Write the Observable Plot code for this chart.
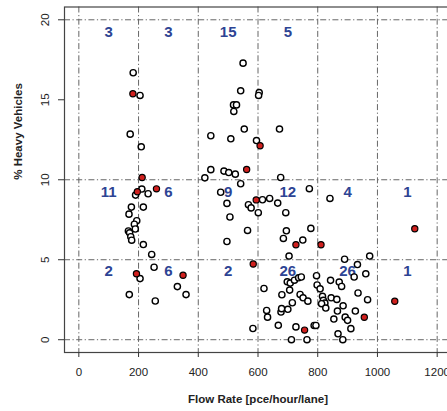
<!DOCTYPE html>
<html><head><meta charset="utf-8">
<script src="https://cdn.jsdelivr.net/npm/d3@7"></script>
<script src="https://cdn.jsdelivr.net/npm/@observablehq/plot@0.6"></script>
<style>body{margin:0;background:#fff;} svg{overflow:visible}</style>
</head><body><div id="chart"></div>
<script>
// open (white) points
const flowOpen = [182,205,172,209,
  211,190,232,216,176,168,194,186,189,166,170,174,177,216,244,
  169,205,252,256,330,359,
  550,542,604,602,518,528,519,554,672,442,509,595,442,486,502,524,422,676,
  475,496,542,506,568,577,565,496,
  601,615,639,666,693,695,685,750,777,704,772,
  841,890,974,
  583,
  620,629,632,668,677,679,700,680,698,708,722,736,745,706,715,741,751,767,727,712,764,788,794,796,798,
  933,843,872,880,922,961,808,816,819,824,813,827,845,864,935,967,866,885,854,892,900,926,911,868,884];
const hvOpen = [16.69,15.27,12.85,12.06,
  9.42,9.04,9.125,8.29,8.29,7.85,7.44,7.22,6.92,6.8,6.68,6.44,6.22,5.95,5.33,
  2.82,3.82,4.53,2.42,3.32,2.82,
  17.29,15.56,15.45,15.27,14.68,14.68,14.27,13.17,13.17,12.75,12.56,12.45,10.63,10.54,10.45,10.35,10.12,10.14,
  9.22,8.52,9.75,7.67,8.44,8.24,6.83,6.14,
  7.94,8.75,8.83,8.54,7.94,6.81,6.33,6.23,6.96,5.23,9.44,
  8.83,5.03,5.23,
  0.7,
  3.2,1.83,1.41,0.9,1.73,1.94,1.9,2.81,3.62,3.54,3.72,3.87,3.92,3.1,2.31,2.83,2.62,2.41,0.8,0,0,0.89,0.89,4.0,3.42,
  4.7,3.71,3.6,3.33,3.92,4.12,3.18,2.71,2.46,2.29,2.25,1.98,2.62,2.52,2.92,2.5,1.79,2.12,1.29,1.41,1.21,1.79,0.69,0.37,0];
// red points
const flowRed = [181,212,196,260,193,349,562,607,594,584,727,811,756,956,1058,1125];
const hvRed = [15.375,10.14,9.25,9.43,4.12,4.03,10.64,12.13,8.74,4.73,5.94,5.94,0.6,1.4,2.4,6.94];

// cell count labels
const cellX = [100,300,500,700,900,1100];
const topRowCounts = ["3","3","15","5"];
const midRowCounts = ["11","6","9","12","4","1"];
const lowRowCounts = ["2","6","2","26","26","1"];
const rowLabelY = [19.25, 9.2, 4.27];

const xTicks = [0,200,400,600,800,1000,1200];
const yTicks = [0,5,10,15,20];
const yGrid = [0,5,10,20];

const openPts = flowOpen.map((f,i)=>({flow:f, hv:hvOpen[i]}));
const redPts = flowRed.map((f,i)=>({flow:f, hv:hvRed[i]}));
const labels = [];
topRowCounts.forEach((t,i)=>labels.push({x:cellX[i], y:rowLabelY[0], t}));
midRowCounts.forEach((t,i)=>labels.push({x:cellX[i], y:rowLabelY[1], t}));
lowRowCounts.forEach((t,i)=>labels.push({x:cellX[i], y:rowLabelY[2], t}));

const dash = "6,2.5,1.2,2.5";
const gridColor = "#666";
const font = "'Liberation Sans', Arial, sans-serif";

const chart = Plot.plot({
  width: 447, height: 411,
  marginLeft: 64, marginRight: -4, marginTop: 6.5, marginBottom: 59,
  style: {fontFamily: font, background: "#fff", overflow: "visible"},
  x: {domain: [-48, 1248]},
  y: {domain: [-0.8, 20.8]},
  marks: [
    Plot.ruleX(xTicks, {stroke: gridColor, strokeWidth: 1, strokeDasharray: dash}),
    Plot.ruleY(yGrid, {stroke: gridColor, strokeWidth: 1, strokeDasharray: dash}),
    Plot.frame({stroke: "#444", strokeWidth: 1.2}),
    Plot.axisX(xTicks, {tickSize: 5, tickPadding: 10, fontSize: 11.5, tickFormat: d => String(d), label: null, stroke: "#333", fill: "#222"}),
    Plot.axisY(yTicks, {tickSize: 6, tickFormat: () => "", label: null, stroke: "#333"}),
    Plot.text(yTicks, {y: d => d, text: d => String(d), frameAnchor: "left", dx: -19, rotate: -90, fontSize: 11.5, fill: "#222", textAnchor: "middle", lineAnchor: "middle"}),
    Plot.text(["Flow Rate [pce/hour/lane]"], {frameAnchor: "bottom", dy: 47, text: d => d, fontWeight: "bold", fontSize: 11.5, fill: "#222", lineAnchor: "middle"}),
    Plot.text(["% Heavy Vehicles"], {frameAnchor: "left", dx: -46, rotate: -90, text: d => d, fontWeight: "bold", fontSize: 11.5, fill: "#222", lineAnchor: "middle"}),
    Plot.text(labels, {x: "x", y: "y", text: "t", fill: "#2d4494", fontWeight: "bold", fontSize: 15, lineAnchor: "middle"}),
    Plot.dot(openPts, {x: "flow", y: "hv", r: 3.1, fill: "#fff", stroke: "#000", strokeWidth: 1.4}),
    Plot.dot(redPts, {x: "flow", y: "hv", r: 3.1, fill: "#d0201e", stroke: "#000", strokeWidth: 1.2})
  ]
});
document.getElementById("chart").appendChild(chart);
</script>
</body></html>
